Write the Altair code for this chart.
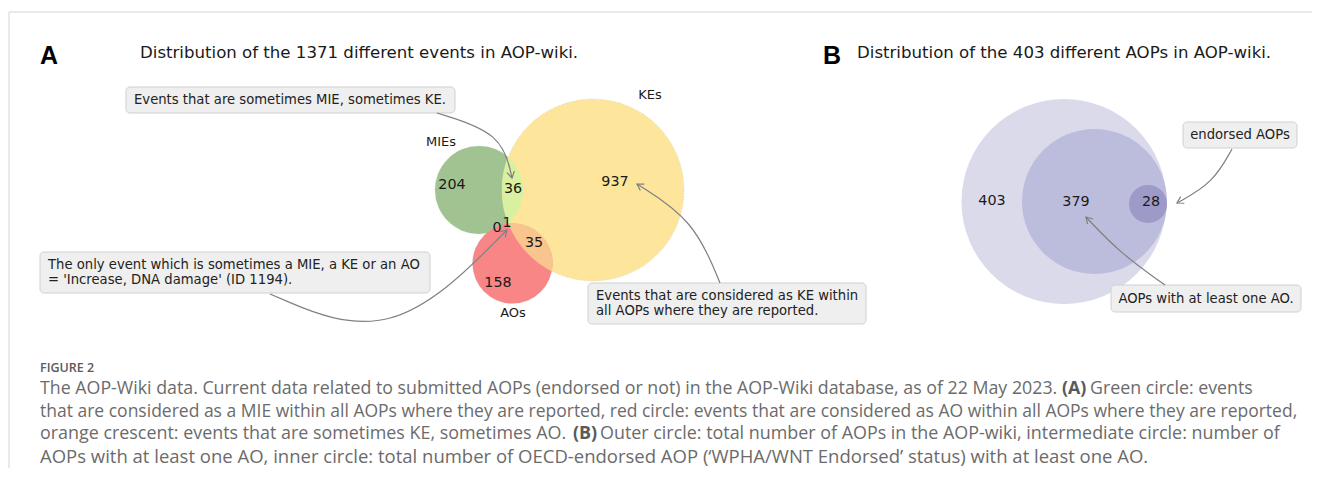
import math
import altair as alt
import pandas as pd

# ---------------- data ----------------
# Panel A: the 1371 events in AOP-wiki
set_names = ["MIEs", "KEs", "AOs"]
region_values = ["204", "36", "937", "0", "1", "35", "158"]
# Panel B: the 403 AOPs
b_values = ["403", "379", "28"]

panel_letters = ["A", "B"]
panel_titles = [
    "Distribution of the 1371 different events in AOP-wiki.",
    "Distribution of the 403 different AOPs in AOP-wiki.",
]
callout_texts = [
    ["Events that are sometimes MIE, sometimes KE."],
    ["The only event which is sometimes a MIE, a KE or an AO",
     "= 'Increase, DNA damage' (ID 1194)."],
    ["Events that are considered as KE within",
     "all AOPs where they are reported."],
    ["endorsed AOPs"],
    ["AOPs with at least one AO."],
]
caption_head = "FIGURE 2"
caption_lines = [
    ["The AOP-Wiki data. Current data related to submitted AOPs (endorsed or not) in the AOP-Wiki database, as of 22 May 2023.",
     "(A)", "Green circle: events"],
    ["that are considered as a MIE within all AOPs where they are reported, red circle: events that are considered as AO within all AOPs where they are reported,"],
    ["orange crescent: events that are sometimes KE, sometimes AO.",
     "(B)", "Outer circle: total number of AOPs in the AOP-wiki, intermediate circle: number of"],
    ["AOPs with at least one AO, inner circle: total number of OECD-endorsed AOP (\u2018WPHA/WNT Endorsed\u2019 status) with at least one AO."],
]

# ---------------- layout (page pixels) ----------------
W, H = 1304, 460
X0, Y0 = 8, 8
xs = alt.Scale(domain=[X0, X0 + W], range=[0, W])
ys = alt.Scale(domain=[Y0, Y0 + H], range=[0, H])

circ_a = [(479, 190, 44, "#a0c391"), (593, 190, 91, "#fde69b"), (512.5, 263.5, 40, "#f88686")]
circ_b = [(1064, 201.5, 102.5, "#dadaeb"), (1094.5, 201.5, 72.5, "#bcbddc"), (1148, 204, 19, "#9e9ac8")]
set_label_pos = [(441, 142), (650, 95), (513, 313)]
region_pos = [(452, 185), (513, 189), (615, 182), (497, 228), (507, 223), (534, 243), (498, 283)]
b_pos = [(992, 201), (1076, 202), (1151, 202)]
letter_pos = [(40, 56), (823, 56)]
title_pos = [(140, 53), (857, 53)]
boxes = [(126, 455, 87, 113), (40, 430, 252, 293), (588, 866, 283, 324),
         (1183, 1297, 122, 148), (1111, 1301, 285, 312)]
box_text_x = [134, 48, 596, None, None]
arrows = [  # start, control, end
    ((437, 113), (502, 133), (512, 178)),
    ((270, 294), (391, 346), (507, 230)),
    ((720, 283), (694, 220), (637, 184)),
    ((1232, 149), (1213, 183), (1177, 203)),
    ((1165, 285), (1120, 253), (1086, 217)),
]
caption_head_y = 368
caption_y = [389, 411.5, 434, 456.5]
caption_size = [17.8, 17.5, 17.9, 18.5]
caption_seg_x = [[40, 1062, 1090], [40], [40, 573, 600], [40]]


def enc_xy(**kw):
    return dict(
        x=alt.X("x:Q", scale=xs, axis=None),
        y=alt.Y("y:Q", scale=ys, axis=None),
        **kw,
    )


# ---------- circles (one layer each, fixed draw order) ----------
# Vega's circle symbol has radius sqrt(size)/2, so size = (2r)^2
circle_layers = []
for i, (x, y, r, c) in enumerate(circ_b + circ_a):
    props = dict(opacity=1, fill=c)
    if i >= 3:
        props.update(stroke="#b5b5b5", strokeWidth=0.5, strokeDash=[1.5, 1.5], strokeOpacity=0.6)
    circle_layers.append(
        alt.Chart(pd.DataFrame([dict(x=x, y=y, s=(2 * r) ** 2)])).mark_circle(**props).encode(
            **enc_xy(size=alt.Size("s:Q", scale=None)))
    )


# ---------- lens shapes (set intersections) ----------
def lens(c1, c2, n=48):
    x1, y1, r1 = c1[:3]
    x2, y2, r2 = c2[:3]
    dx, dy = x2 - x1, y2 - y1
    d = math.hypot(dx, dy)
    phi = math.atan2(dy, dx)
    a1 = math.acos((r1 * r1 + d * d - r2 * r2) / (2 * r1 * d))
    a2 = math.acos((r2 * r2 + d * d - r1 * r1) / (2 * r2 * d))
    pts = []
    for k in range(n + 1):
        t = phi - a1 + 2 * a1 * k / n
        pts.append((x1 + r1 * math.cos(t), y1 + r1 * math.sin(t)))
    for k in range(1, n):
        t = phi + math.pi - a2 + 2 * a2 * k / n
        pts.append((x2 + r2 * math.cos(t), y2 + r2 * math.sin(t)))
    return pts


lens_layers = []
for ca, cb, col in [(circ_a[1], circ_a[2], "#f9c48e"), (circ_a[0], circ_a[1], "#d9f0a0")]:
    rows = [dict(x=px, y=py, i=i) for i, (px, py) in enumerate(lens(ca, cb))]
    lens_layers.append(
        alt.Chart(pd.DataFrame(rows)).mark_line(
            interpolate="linear-closed", fill=col, stroke=col, strokeWidth=0.4, opacity=1
        ).encode(**enc_xy(order=alt.Order("i:Q")))
    )

# ---------- callout boxes ----------
box_df = pd.DataFrame([dict(x=a, x2=b, y=c, y2=d) for a, b, c, d in boxes])
box_layer = alt.Chart(box_df).mark_rect(
    fill="#efefef", stroke="#d0d0d0", strokeWidth=1, cornerRadius=4
).encode(
    x=alt.X("x:Q", scale=xs, axis=None), x2="x2:Q",
    y=alt.Y("y:Q", scale=ys, axis=None), y2="y2:Q",
)

left_rows, center_rows = [], []
for k, lines in enumerate(callout_texts):
    x1, x2, y1, y2 = boxes[k]
    n = len(lines)
    for j, t in enumerate(lines):
        yy = (y1 + y2) / 2 + (j - (n - 1) / 2) * 15.5
        if box_text_x[k] is None:
            center_rows.append(dict(x=(x1 + x2) / 2, y=yy, t=t))
        else:
            left_rows.append(dict(x=box_text_x[k], y=yy, t=t))
callout_left = alt.Chart(pd.DataFrame(left_rows)).mark_text(
    align="left", baseline="middle", font="DejaVu Sans", fontSize=13.2, color="#222222"
).encode(**enc_xy(text="t:N"))
callout_center = alt.Chart(pd.DataFrame(center_rows)).mark_text(
    align="center", baseline="middle", font="DejaVu Sans", fontSize=13.2, color="#222222"
).encode(**enc_xy(text="t:N"))

# ---------- arrows ----------
arrow_rows, head_rows = [], []
for aid, (p0, p1, p2) in enumerate(arrows):
    for i, (px, py) in enumerate([p0, p1, p2]):
        arrow_rows.append(dict(x=px, y=py, i=i, id=aid))
    ang = math.degrees(math.atan2(p2[1] - p1[1], p2[0] - p1[0])) % 360
    head_rows.append(dict(x=p2[0], y=p2[1], a=ang))
arrow_lines = alt.Chart(pd.DataFrame(arrow_rows)).mark_line(
    interpolate="basis", color="#808080", strokeWidth=1.2
).encode(**enc_xy(detail="id:N", order=alt.Order("i:Q")))
arrow_heads = alt.Chart(pd.DataFrame(head_rows)).mark_point(
    shape="M-1,-0.6L0,0L-1,0.6", filled=False, color="#808080", strokeWidth=1.2,
    size=160, opacity=1
).encode(**enc_xy(angle=alt.Angle("a:Q", scale=None)))

# ---------- labels ----------
num_df = pd.DataFrame(
    [dict(x=p[0], y=p[1], t=v) for v, p in zip(region_values, region_pos)]
    + [dict(x=p[0], y=p[1], t=v) for v, p in zip(b_values, b_pos)]
)
num_layer = alt.Chart(num_df).mark_text(
    align="center", baseline="middle", font="DejaVu Sans", fontSize=14.3, color="#1a1a1a"
).encode(**enc_xy(text="t:N"))
set_df = pd.DataFrame([dict(x=p[0], y=p[1], t=v) for v, p in zip(set_names, set_label_pos)])
set_layer = alt.Chart(set_df).mark_text(
    align="center", baseline="middle", font="DejaVu Sans", fontSize=13, color="#1a1a1a"
).encode(**enc_xy(text="t:N"))

letter_df = pd.DataFrame([dict(x=p[0], y=p[1], t=v) for v, p in zip(panel_letters, letter_pos)])
letter_layer = alt.Chart(letter_df).mark_text(
    align="left", baseline="middle", font="Liberation Sans", fontWeight="bold", fontSize=25,
    color="#000000"
).encode(**enc_xy(text="t:N"))
title_df = pd.DataFrame([dict(x=p[0], y=p[1], t=v) for v, p in zip(panel_titles, title_pos)])
title_layer = alt.Chart(title_df).mark_text(
    align="left", baseline="middle", font="DejaVu Sans", fontSize=16.6, color="#1a1a1a"
).encode(**enc_xy(text="t:N"))

# ---------- frame ----------
frame_df = pd.DataFrame([dict(x=9, x2=X0 + W, y=12, y2=12), dict(x=9, x2=9, y=12, y2=Y0 + H)])
frame = alt.Chart(frame_df).mark_rule(color="#d4d4d4", strokeWidth=1).encode(
    x=alt.X("x:Q", scale=xs, axis=None), x2="x2:Q",
    y=alt.Y("y:Q", scale=ys, axis=None), y2="y2:Q",
)

# ---------- caption ----------
cap_norm, cap_bold = [], []
for li, segs in enumerate(caption_lines):
    for si, seg in enumerate(segs):
        row = dict(x=caption_seg_x[li][si], y=caption_y[li], t=seg, fs=caption_size[li])
        if seg in ("(A)", "(B)"):
            cap_bold.append(row)
        else:
            cap_norm.append(row)
cap_norm_layer = alt.Chart(pd.DataFrame(cap_norm)).mark_text(
    align="left", baseline="middle", font="Open Sans", color="#6b6b6b"
).encode(**enc_xy(text="t:N", size=alt.Size("fs:Q", scale=None)))
cap_bold_layer = alt.Chart(pd.DataFrame(cap_bold)).mark_text(
    align="left", baseline="middle", font="Open Sans", fontWeight="bold", color="#5a5a5a"
).encode(**enc_xy(text="t:N", size=alt.Size("fs:Q", scale=None)))
cap_head_layer = alt.Chart(pd.DataFrame([dict(x=40, y=caption_head_y, t=caption_head)])).mark_text(
    align="left", baseline="middle", font="Open Sans", fontSize=12.5, fontWeight=600,
    color="#5a5a5a"
).encode(**enc_xy(text="t:N"))

chart = alt.layer(
    frame, *circle_layers, *lens_layers, box_layer, arrow_lines, arrow_heads,
    callout_left, callout_center, num_layer, set_layer, letter_layer, title_layer,
    cap_head_layer, cap_norm_layer, cap_bold_layer,
).properties(
    width=W, height=H, padding=0, autosize=alt.AutoSizeParams(type="none")
).configure_view(stroke=None)

chart.save("out.html", embed_options={"renderer": "svg", "actions": False})
